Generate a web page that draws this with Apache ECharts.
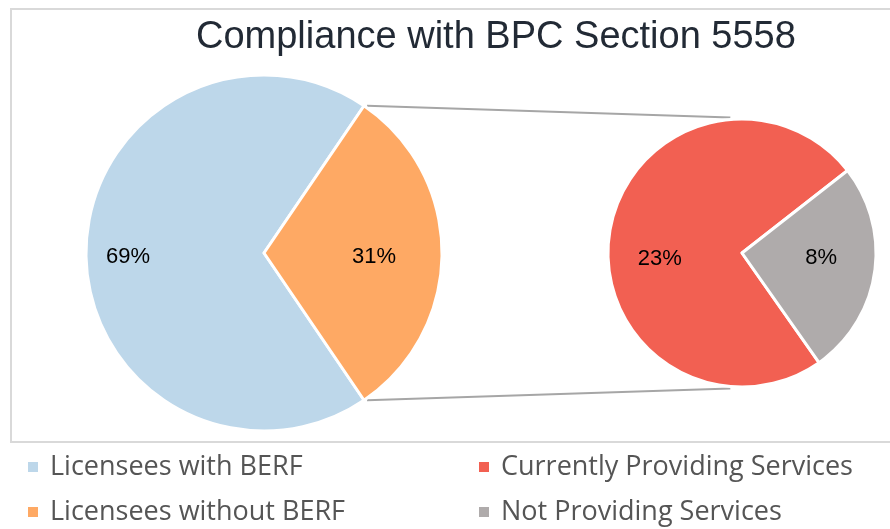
<!DOCTYPE html>
<html>
<head>
<meta charset="utf-8">
<script src="https://cdn.jsdelivr.net/npm/echarts@6/dist/echarts.min.js"></script>
<style>html,body{margin:0;padding:0;background:#fff}#c{width:890px;height:529px}</style>
</head>
<body>
<div id="c"></div>
<script>
const titleText = 'Compliance with BPC Section 5558';
const mainNames = ['Licensees with BERF', 'Licensees without BERF'];
const mainValues = [69, 31];
const subNames = ['Currently Providing Services', 'Not Providing Services'];
const subValues = [23, 8];
const mainColors = ['#bdd7ea', '#fea964'];
const subColors = ['#f26052', '#afabab'];

const L = {cx: 264, cy: 253, r: 178};
const R = {cx: 742, cy: 253, r: 134};
const mainTotal = mainValues.reduce((a, b) => a + b, 0);
const subTotal = subValues.reduce((a, b) => a + b, 0);
const halfSplit = mainValues[1] / mainTotal * 180;
const mainStart = 360 - halfSplit;
const subStart = 38 + subValues[0] / subTotal * 360;

const rad = d => d * Math.PI / 180;
const p1 = [L.cx + L.r * Math.cos(rad(halfSplit)), L.cy - L.r * Math.sin(rad(halfSplit))];
const p2 = [L.cx + L.r * Math.cos(rad(halfSplit)), L.cy + L.r * Math.sin(rad(halfSplit))];
const q1 = [R.cx + R.r * Math.cos(rad(95)), R.cy - R.r * Math.sin(rad(95))];
const q2 = [R.cx + R.r * Math.cos(rad(95)), R.cy + R.r * Math.sin(rad(95))];

const chart = echarts.init(document.getElementById('c'), null, {renderer: 'canvas'});
const labelStyle = {show: true, position: 'inside', formatter: '{c}%', color: '#000', fontSize: 22, fontFamily: 'Liberation Sans, Arial, sans-serif'};
const legendText = {color: '#555555', fontSize: 27, lineHeight: 28, fontFamily: 'Open Sans, sans-serif', padding: [0, 0, 0, 6]};
const mainShift = [[-44, 4], [18, 4]];
const subShift = [[-13, 16], [10, -5]];
const legendBase = {orient: 'vertical', top: 453, height: 80, padding: 0, itemWidth: 12, itemHeight: 12, itemGap: 17, icon: 'rect', textStyle: legendText};
chart.setOption({
  animation: false,
  title: {text: titleText, left: 191, top: 14, textStyle: {fontSize: 38, fontWeight: 'normal', color: '#222a35', fontFamily: 'Liberation Sans, Arial, sans-serif'}},
  legend: [
    Object.assign({data: mainNames, left: 26}, legendBase),
    Object.assign({data: subNames, left: 477}, legendBase)
  ],
  graphic: [
    {type: 'rect', shape: {x: 11, y: 9, width: 890, height: 433}, style: {fill: 'none', stroke: '#d9d9d9', lineWidth: 2}, silent: true, z: -1},
    {type: 'line', shape: {x1: p1[0] + 3, y1: p1[1], x2: q1[0], y2: q1[1] - 2}, style: {stroke: '#a6a6a6', lineWidth: 2}, silent: true},
    {type: 'line', shape: {x1: p2[0] + 3, y1: p2[1], x2: q2[0], y2: q2[1] + 2}, style: {stroke: '#a6a6a6', lineWidth: 2}, silent: true}
  ],
  series: [
    {type: 'pie', center: [L.cx, L.cy], radius: L.r, startAngle: mainStart, clockwise: true,
     itemStyle: {borderColor: '#fff', borderWidth: 3},
     label: labelStyle, labelLine: {show: false},
     emphasis: {disabled: true},
     labelLayout: p => ({dx: mainShift[p.dataIndex][0], dy: mainShift[p.dataIndex][1]}),
     data: mainNames.map((n, i) => ({name: n, value: mainValues[i], itemStyle: {color: mainColors[i]}}))},
    {type: 'pie', center: [R.cx, R.cy], radius: R.r, startAngle: subStart, clockwise: true,
     itemStyle: {borderColor: '#fff', borderWidth: 3},
     label: labelStyle, labelLine: {show: false},
     emphasis: {disabled: true},
     labelLayout: p => ({dx: subShift[p.dataIndex][0], dy: subShift[p.dataIndex][1]}),
     data: subNames.map((n, i) => ({name: n, value: subValues[i], itemStyle: {color: subColors[i]}}))}
  ]
});
</script>
</body>
</html>
